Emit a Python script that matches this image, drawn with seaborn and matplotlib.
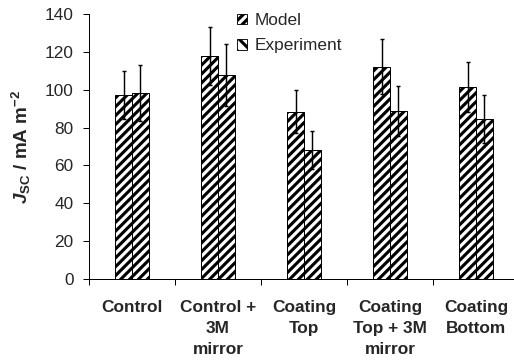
import matplotlib
matplotlib.use("Agg")
import matplotlib.pyplot as plt
from matplotlib.patches import Patch
from matplotlib.ticker import FixedLocator
import numpy as np
import pandas as pd
import seaborn as sns

# Short-circuit current density for each device configuration
categories = ["Control", "Control +\n3M\nmirror", "Coating\nTop",
              "Coating\nTop + 3M\nmirror", "Coating\nBottom"]
series = ["Model", "Experiment"]
model_jsc = [97.2, 117.6, 88.4, 112.2, 101.6]
model_err = [12.6, 15.3, 11.5, 14.6, 13.3]
exp_jsc = [98.1, 107.8, 68.2, 88.8, 84.5]
exp_err = [14.7, 16.2, 10.2, 13.3, 12.7]
y_ticks = [0, 20, 40, 60, 80, 100, 120, 140]

df = pd.DataFrame({
    "category": categories * 2,
    "series": [series[0]] * len(categories) + [series[1]] * len(categories),
    "jsc": model_jsc + exp_jsc,
})

sns.set_theme(style="white")
plt.rcParams["font.family"] = ["Liberation Sans", "DejaVu Sans"]
plt.rcParams["mathtext.fontset"] = "custom"
plt.rcParams["mathtext.rm"] = "Liberation Sans:bold"
plt.rcParams["mathtext.bf"] = "Liberation Sans:bold"
plt.rcParams["mathtext.it"] = "Liberation Sans:bold:italic"
plt.rcParams["hatch.linewidth"] = 2.8
plt.rcParams["hatch.color"] = "#151515"

DPI = 80
fig = plt.figure(figsize=(514 / DPI, 360 / DPI), dpi=DPI)
ax = fig.add_axes([89 / 514, 81 / 360, 430 / 514, 265 / 360])

sns.barplot(data=df, x="category", y="jsc", hue="series", hue_order=series,
            order=categories, width=0.385, palette=["white", "white"],
            edgecolor="black", linewidth=0.9, errorbar=None, legend=False,
            ax=ax)

errs = [model_err, exp_err]
vals = [model_jsc, exp_jsc]
for cont, v, e in zip(ax.containers, vals, errs):
    xs = []
    for bar in cont:
        bar.set_hatch("///")
        bar.set_edgecolor("black")
        xs.append(bar.get_x() + bar.get_width() / 2)
    ax.errorbar(xs, v, yerr=e, fmt="none", ecolor="black", elinewidth=1.3,
                capsize=2.2, capthick=1.3, zorder=5)

ax.set_ylim(0, 140)
ax.set_xlim(-0.5, len(categories) - 0.5)
ax.set_yticks(y_ticks)
ax.tick_params(axis="y", which="major", direction="out", length=5,
               width=0.9, color="black", labelsize=15.5, pad=9, left=True)
ax.set_xticks(range(len(categories)))
ax.set_xticklabels(categories, fontweight="bold", fontsize=15.5,
                   linespacing=1.48)
ax.tick_params(axis="x", which="major", length=0, pad=19)
ax.xaxis.set_minor_locator(FixedLocator(np.arange(-0.5, len(categories), 1.0)))
ax.tick_params(axis="x", which="minor", direction="out", length=5,
               width=0.9, color="black", bottom=True)

for side in ["top", "right"]:
    ax.spines[side].set_visible(False)
for side in ["left", "bottom"]:
    ax.spines[side].set_color("black")
    ax.spines[side].set_linewidth(0.9)

ax.set_xlabel("")
ax.set_ylabel(r"$\mathit{J}_{\mathbf{SC}}$ / mA m$^{\mathbf{-2}}$",
              fontsize=17, fontweight="bold")
ax.yaxis.set_label_coords(-0.13, 0.5)

handles = [
    Patch(facecolor="white", edgecolor="black", hatch="///", linewidth=0.8),
    Patch(facecolor="white", edgecolor="black", hatch="\\\\", linewidth=0.8),
]
fig.legend(handles, series, loc="upper left",
           bbox_to_anchor=(237 / 514, 1 - 13 / 360), frameon=False,
           fontsize=15.5, handlelength=0.58, handleheight=0.58,
           handletextpad=0.45, labelspacing=0.6, borderpad=0,
           borderaxespad=0)

fig.savefig("out.png", dpi=DPI)
